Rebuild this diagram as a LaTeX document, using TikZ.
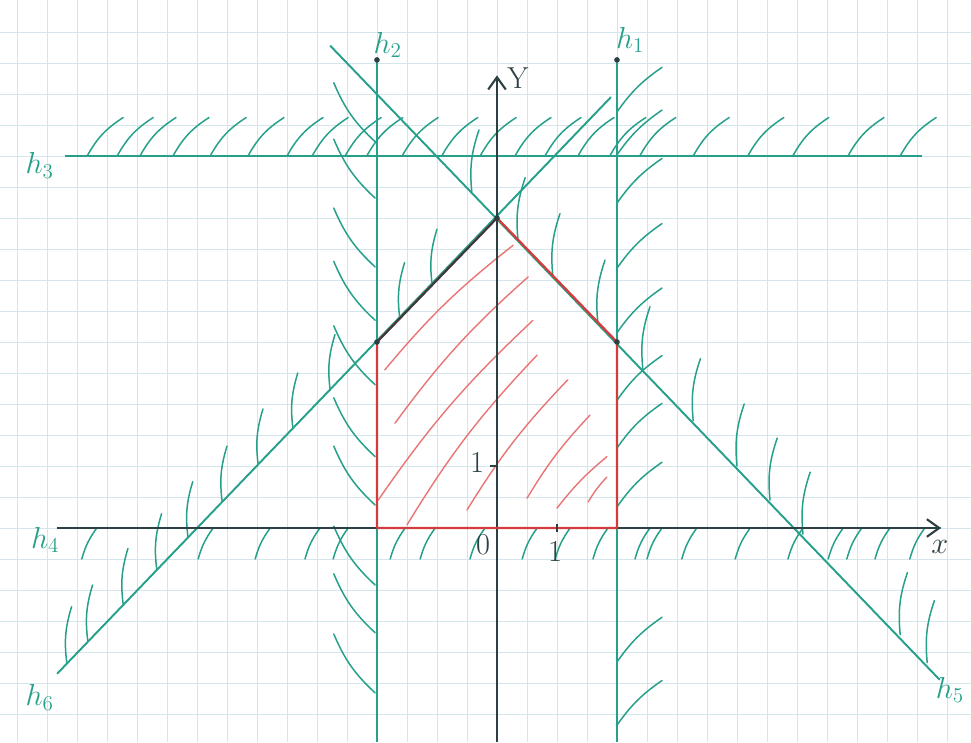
\documentclass[tikz,border=0pt]{standalone}
\usepackage{xcolor}
\usepackage{tikz}
\usetikzlibrary{arrows.meta}
\definecolor{gridc}{RGB}{212,230,235}
\definecolor{pen}{RGB}{38,160,138}
\definecolor{redpen}{RGB}{210,60,60}
\definecolor{redhatch}{RGB}{232,118,118}
\definecolor{axisc}{RGB}{44,64,68}

\begin{document}
\begin{tikzpicture}[x=1.2cm,y=1.24cm,
  gridln/.style={gridc,line width=0.5pt},
  hline/.style={pen,line width=1.1pt},
  hatch/.style={pen,line width=0.85pt,line cap=round},
  rhatch/.style={redhatch,line width=0.8pt,line cap=round},
  axis/.style={axisc,line width=1.2pt,-{Straight Barb[length=7pt,width=10pt]}},
  lbl/.style={pen,font=\LARGE},
  albl/.style={axisc,font=\LARGE}]
\useasboundingbox (-8.283,-3.452) rectangle (7.9,8.516);
\fill[white] (-8.283,-3.452) rectangle (7.9,8.516);
% squared paper, two squares per unit
\foreach \i in {-16,...,15} \draw[gridln] (\i/2,-3.452) -- (\i/2,8.516);
\foreach \j in {-6,...,16} \draw[gridln] (-8.283,\j/2) -- (7.9,\j/2);
% end points of the six lines and of the axes
\coordinate (h1t) at (2,7.55);      \coordinate (h1b) at (2,-3.452);
\coordinate (h2t) at (-2,7.55);     \coordinate (h2b) at (-2,-3.452);
\coordinate (h3l) at (-7.2,6);      \coordinate (h3r) at (7.08,6);
\coordinate (h5t) at (-2.78,7.78);  \coordinate (h5b) at (7.38,-2.45);
\coordinate (h6b) at (-7.33,-2.35); \coordinate (h6t) at (1.9,6.95);
\coordinate (xl) at (-7.33,0);      \coordinate (xr) at (7.4,0);
\coordinate (yb) at (0,-3.452);     \coordinate (yt) at (0,7.3);
% the feasible pentagon
\coordinate (p1) at (-2,0);
\coordinate (p2) at (2,0);
\coordinate (p3) at (2,3);
\coordinate (p4) at (0,5);
\coordinate (p5) at (-2,3);
% hatching on the excluded side of each line
\foreach \a in {-6.83,-6.33,-5.95,-5.4,-4.78,-4.15,-3.5,-3.08,-2.53,-2.17,-1.58,-0.92,-0.28,0.3,0.8,1.35,1.88,2.38,3.27,4.18,4.93,5.85,6.72}
  \draw[hatch] (\a,6) to[bend left=14] ++(0.6,0.62);
\foreach \a in {-6.67,-4.73,-3.78,-2.95,-2.48,-1.53,-1.03,-0.2,0.67,1.22,1.85,2.55,2.75,3.33,4.22,5.1,5.77,6.08,6.55,7.13}
  \draw[hatch] (\a-0.25,-0.5) to[bend left=10] (\a,0);
\foreach \b in {6.71,6.02,5.24,4.19,3.15,2.06,1.29,0.34,-2.16,-3.18}
  \draw[hatch] (2,\b) to[bend left=10] ++(0.75,0.72);
\foreach \b in {6.23,5.32,4.21,3.35,2.31,1.15,0.37,-0.92,-1.69,-2.66}
  \draw[hatch] (-2.72,\b+0.95) to[bend right=12] (-2.03,\b);
\foreach \a in {-0.42,0.35,0.93,1.68,2.43,3.27,4.0,4.55,5.1,6.72,7.17}
  \draw[hatch] (\a,5-\a) to[bend left=12] ++(0.12,1.0);
\foreach \a in {-7.17,-6.82,-6.23,-5.67,-5.15,-4.58,-3.98,-3.4,-2.78,-1.62,-1.08}
  \draw[hatch] (\a,\a+5) to[bend left=12] ++(0.08,0.9);
% red hatching inside
\foreach \xa/\ya/\xb/\yb in {-1.87/2.55/0.27/4.56, -1.7/1.69/0.52/4.05,
    -1.98/0.45/0.6/3.35, -1.5/0.05/0.67/2.79, -0.5/0.29/1.18/2.39,
    0.5/0.48/1.55/1.82, 1.0/0.32/1.83/1.15, 1.52/0.42/1.83/0.82}
  \draw[rhatch] (\xa,\ya) to[bend left=6] (\xb,\yb);
% the lines
\draw[hline] (h1t) -- (h1b);
\draw[hline] (h2t) -- (h2b);
\draw[hline] (h3l) -- (h3r);
\draw[hline] (h5t) -- (h5b);
\draw[hline] (h6b) -- (h6t);
% axes, h4 lies on the x axis
\draw[hline] (xl) -- (xr);
\draw[axis] (xl) -- (xr);
\draw[axis] (yb) -- (yt);
\draw[redpen,line width=1.3pt,line join=round] (p1) -- (p2) -- (p3) -- (p4) -- (p5) -- cycle;
\draw[axisc,line width=1.1pt] (p5) -- (p4);
\foreach \v in {p3,p4,p5,h1t,h2t} \fill[axisc] (\v) circle (1.6pt);
\draw[axisc,line width=1pt] (-0.12,1) -- (0,1);
\draw[axisc,line width=1pt] (1,0.06) -- (1,-0.06);
% labels
\node[lbl] (l1) at (2.22,7.87) {$h_1$};
\node[lbl] (l2) at (-1.82,7.79) {$h_2$};
\node[lbl] (l3) at (-7.62,5.85) {$h_3$};
\node[lbl] (l4) at (-7.53,-0.19) {$h_4$};
\node[lbl] (l5) at (7.55,-2.61) {$h_5$};
\node[lbl] (l6) at (-7.62,-2.73) {$h_6$};
\node[albl] (ly) at (0.35,7.26) {Y};
\node[albl] (lx) at (7.38,-0.31) {$x$};
\node[albl] (lo) at (-0.23,-0.27) {$0$};
\node[albl] (lxa) at (0.97,-0.39) {$1$};
\node[albl] (lya) at (-0.33,1.05) {$1$};
\end{tikzpicture}
\end{document}
